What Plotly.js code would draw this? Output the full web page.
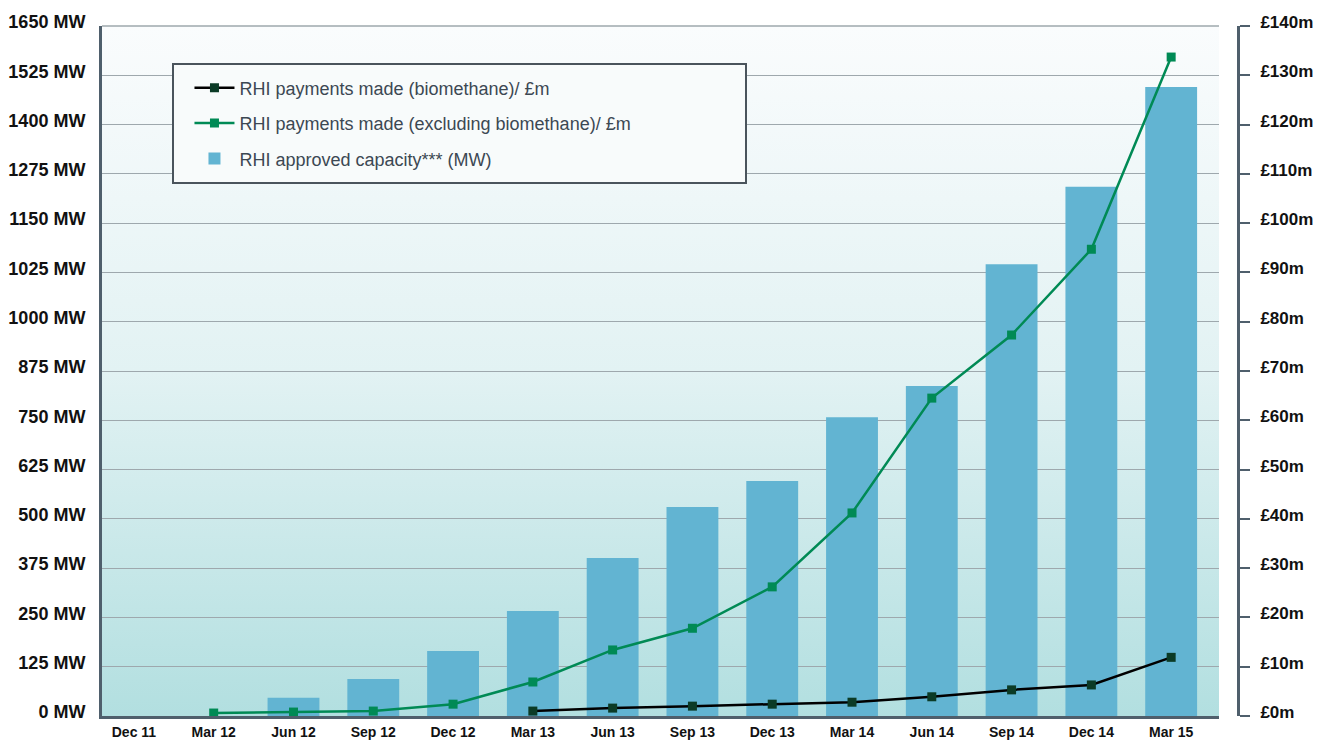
<!DOCTYPE html>
<html>
<head>
<meta charset="utf-8">
<script src="https://cdn.plot.ly/plotly-3.0.1.min.js"></script>
<style>
  html, body { margin:0; padding:0; background:#ffffff; }
  #wrap { position:relative; width:1325px; height:742px; }
  #bg { position:absolute; left:102px; top:26px; width:1117px; height:690px;
        background: linear-gradient(to bottom, #fafcfd 0%, #e2f2f3 50%, #b2dfe0 100%); z-index:0; }
  #chart { position:absolute; left:0; top:0; width:1325px; height:742px; z-index:1; }
</style>
</head>
<body>
<div id="wrap"><div id="bg"></div><div id="chart"></div></div>
<script>
const categories = ["Dec 11","Mar 12","Jun 12","Sep 12","Dec 12","Mar 13","Jun 13","Sep 13","Dec 13","Mar 14","Jun 14","Sep 14","Dec 14","Mar 15"];
const capacityMW = [0, 0, 46, 94, 165, 266, 401, 530, 596, 758, 837, 1146, 1342, 1595];
const paymentsExclBiomethane = [null, 0.6, 0.8, 1.0, 2.4, 6.9, 13.4, 17.8, 26.2, 41.2, 64.5, 77.3, 94.7, 133.7];
const paymentsBiomethane = [null, null, null, null, null, 1.0, 1.6, 2.0, 2.4, 2.8, 3.9, 5.3, 6.3, 11.9];
const leftTickVals = [0,125,250,375,500,625,750,875,1000,1125,1250,1375,1500,1625,1750];
const leftTickText = ["0 MW","125 MW","250 MW","375 MW","500 MW","625 MW","750 MW","875 MW","1000 MW","1025 MW","1150 MW","1275 MW","1400 MW","1525 MW","1650 MW"];
const rightTickVals = [0,10,20,30,40,50,60,70,80,90,100,110,120,130,140];
const rightTickText = rightTickVals.map(v => "£" + v + "m");

const axisDark = "#4f5f6c";
const traces = [
  {
    type:"scatter", mode:"lines+markers", name:"RHI payments made (biomethane)/ £m",
    x: categories, y: paymentsBiomethane, yaxis:"y2",
    line:{color:"#000000", width:2.5}, marker:{symbol:"square", size:9, color:"#0b3b26"},
    legendgroup:"a", connectgaps:false, legendrank:1
  },
  {
    type:"scatter", mode:"lines+markers", name:"RHI payments made (excluding biomethane)/ £m",
    x: categories, y: paymentsExclBiomethane, yaxis:"y2",
    line:{color:"#008a55", width:2.5}, marker:{symbol:"square", size:9, color:"#008a55"},
    legendgroup:"b", connectgaps:false, legendrank:2
  },
  {
    type:"bar", name:"RHI approved capacity*** (MW)",
    x: categories, y: capacityMW, yaxis:"y",
    marker:{color:"#62b4d2"}, width:0.65, legendgroup:"c", legendrank:3
  }
];
const data = [traces[2], traces[0], traces[1]];

const layout = {
  width:1325, height:742,
  margin:{l:102, r:87, t:26, b:26},
  paper_bgcolor:"rgba(0,0,0,0)", plot_bgcolor:"rgba(0,0,0,0)",
  showlegend:true,
  xaxis:{
    type:"category", domain:[0, 0.9833], range:[-0.4, 13.6],
    showgrid:false, zeroline:false,
    showline:true, linecolor:axisDark, linewidth:3,
    ticks:"", tickfont:{family:"Liberation Sans, Arial, sans-serif", size:14, color:"#111", weight:"bold"},
    ticklabelstandoff:1, fixedrange:true
  },
  yaxis:{
    range:[0,1750], tickvals:leftTickVals, ticktext:leftTickText,
    showgrid:true, gridcolor:"#9ea8ad", gridwidth:1,
    zeroline:false, showline:true, linecolor:axisDark, linewidth:3,
    ticks:"", ticklabelstandoff:10, ticklabelshift:-4,
    tickfont:{family:"Liberation Sans, Arial, sans-serif", size:18, color:"#111", weight:"bold"},
    fixedrange:true
  },
  yaxis2:{
    range:[0,140], tickvals:rightTickVals, ticktext:rightTickText,
    overlaying:"y", side:"right", anchor:"free", position:1,
    showgrid:false, zeroline:false,
    showline:true, linecolor:axisDark, linewidth:3,
    ticks:"outside", ticklen:10, tickwidth:2, tickcolor:axisDark,
    ticklabelstandoff:7, ticklabelshift:-4,
    tickfont:{family:"Liberation Sans, Arial, sans-serif", size:17, color:"#111", weight:"bold"},
    fixedrange:true
  },
  legend:{
    x:0.077, y:0.937, xanchor:"left", yanchor:"top",
    bgcolor:"rgba(0,0,0,0)", borderwidth:0,
    font:{family:"Liberation Sans, Arial, sans-serif", size:18, color:"#3c4853"},
    tracegroupgap:9, itemwidth:40, traceorder:"grouped"
  },
  shapes:[
    {type:"line", xref:"x domain", yref:"paper", x0:0, x1:1, y0:1, y1:1,
     line:{color:"#9ea8ad", width:1.5}},
    {type:"rect", xref:"paper", yref:"paper",
     x0:(173-102)/1136, x1:(746-102)/1136, y0:(716-183)/690, y1:(716-64)/690,
     fillcolor:"#f8fbfb", line:{color:"#4a545c", width:2}, layer:"above"}
  ]
};

Plotly.newPlot("chart", data, layout, {displayModeBar:false, staticPlot:true});
</script>
</body>
</html>
